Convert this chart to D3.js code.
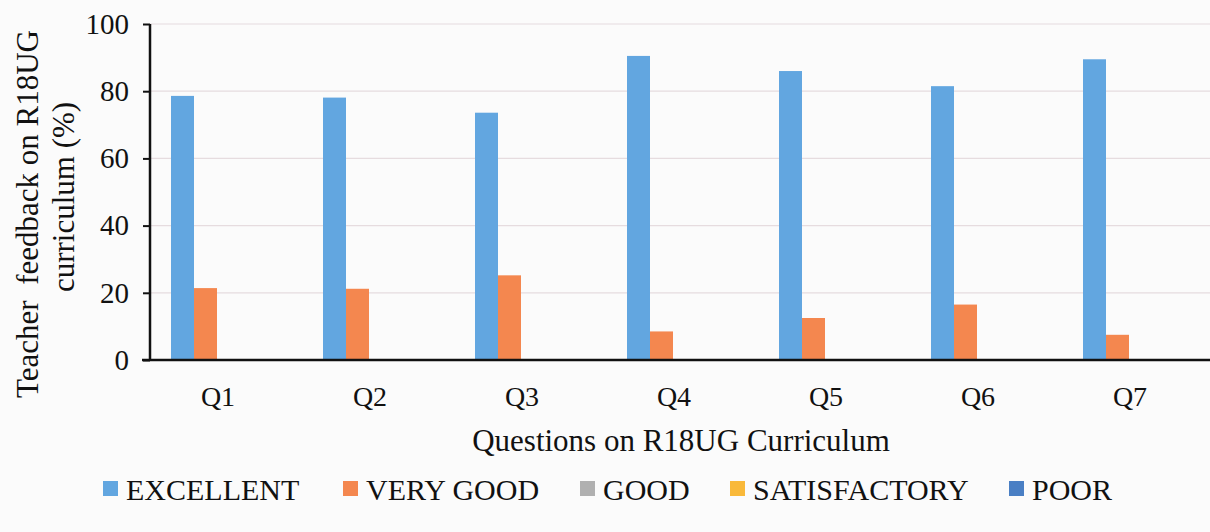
<!DOCTYPE html>
<html>
<head>
<meta charset="utf-8">
<script src="https://cdn.jsdelivr.net/npm/d3@7"></script>
<style>
  body { margin: 0; background: #fbfbfb; }
  svg text { font-family: "Liberation Serif", "Times New Roman", serif; fill: #111; }
</style>
</head>
<body>
<svg></svg>
<script>
// data
var questions = ["Q1", "Q2", "Q3", "Q4", "Q5", "Q6", "Q7"];
var seriesNames = ["EXCELLENT", "VERY GOOD", "GOOD", "SATISFACTORY", "POOR"];
var excellent = [78.6, 78.1, 73.6, 90.5, 86.0, 81.5, 89.5];
var veryGood = [21.4, 21.2, 25.2, 8.5, 12.5, 16.5, 7.5];
var good = [0, 0, 0, 0, 0, 0, 0];
var satisfactory = [0, 0, 0, 0, 0, 0, 0];
var poor = [0, 0, 0, 0, 0, 0, 0];
var yTicks = [0, 20, 40, 60, 80, 100];

var colors = ["#62a6e0", "#f4874f", "#b0b0b0", "#f9b93a", "#4a7fc4"];

var svgWidth = 1210, svgHeight = 532,
    margin = {top: 24, left: 150},
    plotRight = 1214,
    plotBottom = 360,
    barW = 23, barOffset = 21;

var svg = d3.select("svg")
    .attr("width", svgWidth)
    .attr("height", svgHeight);

var allSeries = [excellent, veryGood, good, satisfactory, poor];
var table = questions.map(function(q, i) {
  return {q: q, vals: allSeries.map(function(s){ return s[i]; })};
});

var x0 = d3.scaleBand().domain(questions).range([margin.left, plotRight]);
var x1 = d3.scaleBand().domain(seriesNames).range([barOffset, barOffset + barW * seriesNames.length]);
var y = d3.scaleLinear().domain([0, 100]).range([plotBottom, margin.top]);

// gridlines
svg.append("g")
    .selectAll("line")
    .data(yTicks.slice(1))
    .enter().append("line")
    .attr("x1", margin.left).attr("x2", plotRight)
    .attr("y1", function(d){ return y(d); })
    .attr("y2", function(d){ return y(d); })
    .style("stroke", "#e6dcdf")
    .style("stroke-width", 1.2);

// bars
var groups = svg.append("g").selectAll(".grp")
    .data(table)
    .enter().append("g")
    .attr("transform", function(d){ return "translate(" + x0(d.q) + ",0)"; });

groups.selectAll("rect")
    .data(function(d){ return d.vals.map(function(v, j){ return {name: seriesNames[j], v: v, j: j}; }); })
    .enter().append("rect")
    .attr("x", function(d){ return x1(d.name); })
    .attr("width", x1.bandwidth())
    .attr("y", function(d){ return y(d.v); })
    .attr("height", function(d){ return y(0) - y(d.v); })
    .style("fill", function(d){ return colors[d.j]; });

// y axis
var yAxis = svg.append("g")
    .attr("transform", "translate(" + margin.left + ",0)")
    .call(d3.axisLeft(y).tickValues(yTicks).tickSize(7).tickPadding(14));
yAxis.select(".domain").attr("d", "M0," + y(100) + "V" + y(0)).style("stroke", "#111").style("stroke-width", 2.5);
yAxis.selectAll(".tick line").style("stroke", "#111").style("stroke-width", 2);
yAxis.selectAll(".tick text")
    .style("font-family", "Liberation Serif")
    .style("font-size", "29px")
    .style("fill", "#111");

// x axis
var xAxis = svg.append("g")
    .attr("transform", "translate(0," + plotBottom + ")")
    .call(d3.axisBottom(x0).tickSize(0).tickPadding(26));
xAxis.select(".domain").attr("d", "M" + (margin.left - 8) + ",0H" + plotRight).style("stroke", "#111").style("stroke-width", 2.5);
xAxis.selectAll(".tick text")
    .attr("dx", -8)
    .style("font-family", "Liberation Serif")
    .style("font-size", "28px")
    .style("fill", "#111");

// axis titles
svg.append("text")
    .attr("transform", "translate(" + [681, 451] + ")")
    .attr("text-anchor", "middle")
    .style("font-family", "Liberation Serif")
    .style("font-size", "31px")
    .text("Questions on R18UG Curriculum");

svg.append("text")
    .attr("transform", "translate(" + [38, 214] + ") rotate(-90)")
    .attr("text-anchor", "middle")
    .attr("xml:space", "preserve")
    .style("font-family", "Liberation Serif")
    .style("font-size", "31px")
    .text("Teacher  feedback on R18UG");
svg.append("text")
    .attr("transform", "translate(" + [74, 197] + ") rotate(-90)")
    .attr("text-anchor", "middle")
    .style("font-family", "Liberation Serif")
    .style("font-size", "31px")
    .text("curriculum (%)");

// legend
var legendX = [103, 343, 580, 730, 1009];
var legend = svg.append("g").selectAll(".legend")
    .data(seriesNames)
    .enter().append("g")
    .attr("transform", function(d, i){ return "translate(" + [legendX[i], 500] + ")"; });
legend.append("rect")
    .attr("y", -19).attr("width", 15).attr("height", 15)
    .style("fill", function(d, i){ return colors[i]; });
legend.append("text")
    .attr("x", 23)
    .style("font-family", "Liberation Serif")
    .style("font-size", "30px")
    .text(function(d){ return d; });
</script>
</body>
</html>
